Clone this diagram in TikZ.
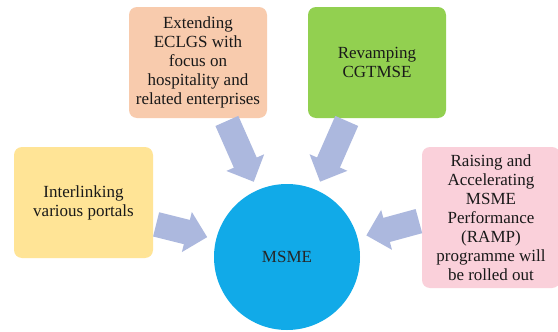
\documentclass[tikz,border=0pt]{standalone}
\usepackage{fontspec}
\setmainfont{Liberation Serif}
\usetikzlibrary{arrows.meta,calc}
\definecolor{peach}{RGB}{248,203,173}
\definecolor{leafgreen}{RGB}{146,208,80}
\definecolor{butter}{RGB}{255,228,150}
\definecolor{blush}{RGB}{250,208,218}
\definecolor{msmeblue}{RGB}{17,170,232}
\definecolor{arrowblue}{RGB}{172,184,222}
\begin{document}
\begin{tikzpicture}[x=1pt,y=-1pt,
  box/.style={rounded corners=8pt,align=center,inner sep=0pt,text=black!90,
    minimum width=138pt,font=\fontsize{17}{19}\selectfont},
  flow/.style={draw=arrowblue,line width=25pt,-{Triangle[length=21pt,width=40pt]},
    shorten <=3pt,shorten >=9pt}]
\useasboundingbox[fill=white] (0,0) rectangle (558,332);
% boxes
\node[box,fill=peach,minimum height=111pt] (eclgs) at (198,62.5)
  {Extending\\ECLGS with\\focus on\\hospitality and\\related enterprises};
\node[box,fill=leafgreen,minimum height=111pt] (cgtmse) at (377,62.5)
  {Revamping\\CGTMSE};
\node[box,fill=butter,minimum width=139pt,minimum height=111pt] (portals) at (83.5,202.5)
  {Interlinking\\various portals};
\node[box,fill=blush,minimum height=141pt] (ramp) at (491,217.5)
  {Raising and\\Accelerating\\MSME\\Performance\\(RAMP)\\programme will\\be rolled out};
% centre
\node[circle,fill=msmeblue,minimum size=146pt,inner sep=0pt,text=black!85,
  font=\fontsize{17}{19}\selectfont] (msme) at (287,257) {MSME};
% block arrows
\draw[flow] ($(eclgs.south west)!0.7!(eclgs.south east)$) -- (msme);
\draw[flow] ($(cgtmse.south west)!0.29!(cgtmse.south east)$) -- (msme);
\draw[flow] ($(portals.north east)!0.69!(portals.south east)$) -- (msme);
\draw[flow] ($(ramp.north west)!0.52!(ramp.south west)$) -- (msme);
\end{tikzpicture}
\end{document}
